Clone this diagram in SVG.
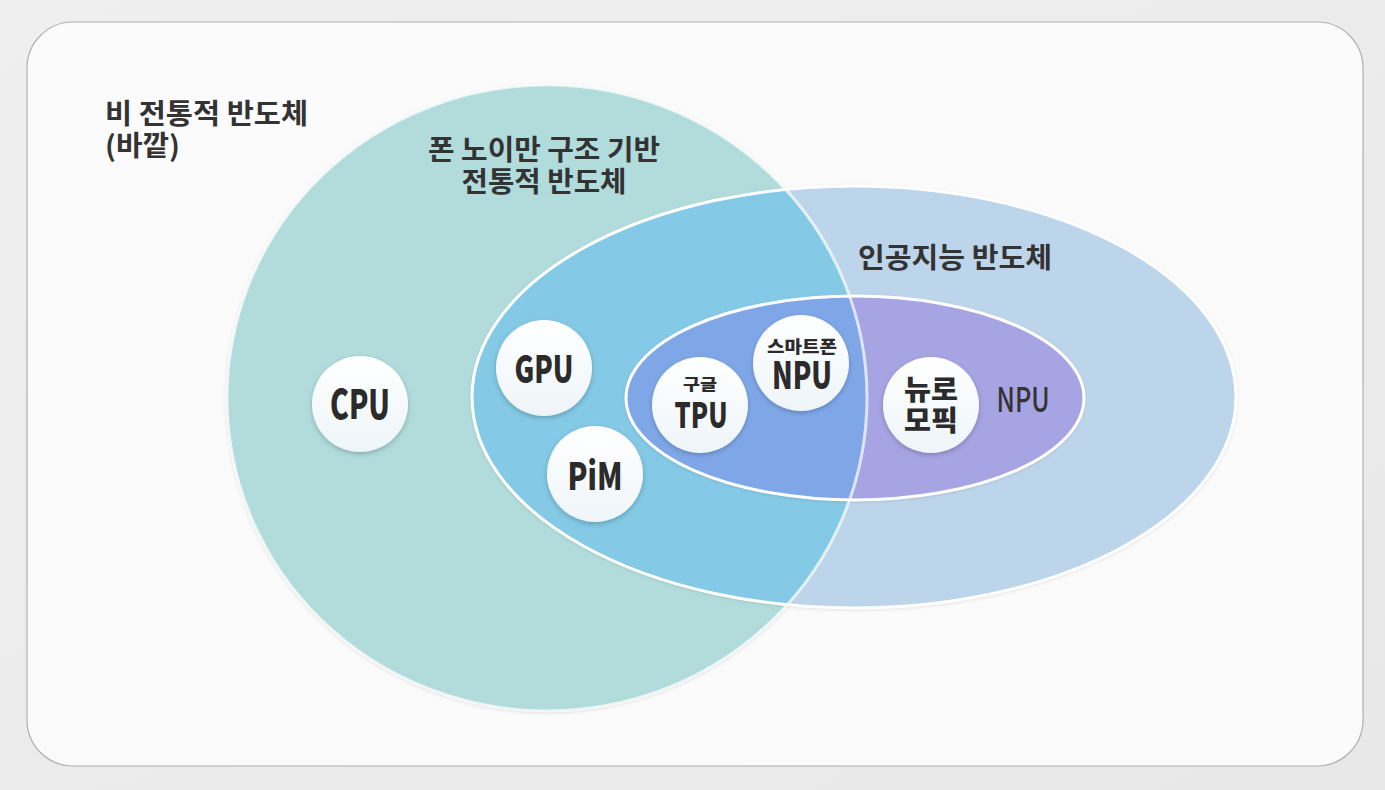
<svg xmlns="http://www.w3.org/2000/svg" width="1385" height="790" viewBox="0 0 1385 790">
<style>
.lbl{font-family:"Noto Sans CJK KR","Noto Sans",sans-serif;font-weight:700;fill:#333;font-size:28px}
.nt{font-family:"Noto Sans CJK KR","Noto Sans",sans-serif;font-weight:900;fill:#2b2b2b;text-anchor:middle}
.node{fill:url(#nodeGrad);filter:url(#nshadow)}
</style>
<defs>
<linearGradient id="bgGrad" x1="0" y1="0" x2="1" y2="1">
<stop offset="0" stop-color="#efefef"/><stop offset="1" stop-color="#e8e8e8"/>
</linearGradient>
<linearGradient id="nodeGrad" x1="0" y1="0" x2="0" y2="1">
<stop offset="0" stop-color="#ffffff"/><stop offset="1" stop-color="#eef5f8"/>
</linearGradient>
<filter id="nshadow" x="-30%" y="-30%" width="160%" height="160%">
<feDropShadow dx="0" dy="2" stdDeviation="2.5" flood-color="#000" flood-opacity="0.22"/>
</filter>
<filter id="sshadow" x="-10%" y="-10%" width="120%" height="120%">
<feDropShadow dx="0" dy="1" stdDeviation="2" flood-color="#000" flood-opacity="0.18"/>
</filter>
<clipPath id="clipCircle"><ellipse cx="547" cy="398" rx="320" ry="313"/></clipPath>
</defs>
<rect x="0" y="0" width="1385" height="790" fill="url(#bgGrad)"/>
<rect x="27" y="22" width="1336" height="744" rx="46" fill="#fbfbfb" stroke="#b0b0b0" stroke-width="1.2"/>

<g id="nonTraditional">
<text class="lbl" x="105" y="124" textLength="203" lengthAdjust="spacingAndGlyphs">비 전통적 반도체</text>
<text class="lbl" x="105" y="156" textLength="75" lengthAdjust="spacingAndGlyphs">(바깥)</text>
</g>

<g id="vonNeumann">
<ellipse cx="547" cy="398" rx="320" ry="313" fill="#b1dcdb" filter="url(#sshadow)"/>
</g>

<g id="aiSemi">
<ellipse cx="854" cy="397" rx="382" ry="211" fill="#bdd5ea" filter="url(#sshadow)"/>
<ellipse cx="854" cy="397" rx="382" ry="211" fill="#84c9e6" clip-path="url(#clipCircle)"/>
</g>

<g id="npuRegion">
<ellipse cx="855" cy="398" rx="229" ry="102" fill="#a7a4e3" filter="url(#sshadow)"/>
<ellipse cx="855" cy="398" rx="229" ry="102" fill="#7fa7e8" clip-path="url(#clipCircle)"/>
</g>

<g id="outlines" fill="none">
<ellipse cx="854" cy="397" rx="382" ry="211" stroke="#ffffff" stroke-width="3"/>
<ellipse cx="855" cy="398" rx="229" ry="102" stroke="#ffffff" stroke-width="3"/>
<ellipse cx="547" cy="398" rx="320" ry="313" stroke="#ffffff" stroke-opacity="0.7" stroke-width="3"/>
</g>

<g id="regionLabels">
<text class="lbl" x="544" y="160" text-anchor="middle" textLength="232" lengthAdjust="spacingAndGlyphs">폰 노이만 구조 기반</text>
<text class="lbl" x="544" y="192" text-anchor="middle" textLength="165" lengthAdjust="spacingAndGlyphs">전통적 반도체</text>
<text class="lbl" x="858" y="268" textLength="194" lengthAdjust="spacingAndGlyphs">인공지능 반도체</text>
<text class="lbl" x="1023" y="412" text-anchor="middle" style="font-weight:500;font-size:34px" textLength="53" lengthAdjust="spacingAndGlyphs">NPU</text>
</g>

<g id="connectors"/>

<g id="cpu">
<circle class="node" cx="360" cy="404" r="48"/>
<text class="nt" x="360" y="419" font-size="40" textLength="60" lengthAdjust="spacingAndGlyphs">CPU</text>
</g>
<g id="gpu">
<circle class="node" cx="544" cy="368" r="48"/>
<text class="nt" x="544" y="383" font-size="38" textLength="59" lengthAdjust="spacingAndGlyphs">GPU</text>
</g>
<g id="pim">
<circle class="node" cx="595" cy="474" r="48"/>
<text class="nt" x="595" y="490" font-size="38" textLength="55" lengthAdjust="spacingAndGlyphs">PiM</text>
</g>
<g id="tpu">
<circle class="node" cx="700" cy="405" r="48"/>
<text class="nt" x="700" y="390" font-size="16" textLength="34" lengthAdjust="spacingAndGlyphs">구글</text>
<text class="nt" x="701" y="428" font-size="35" textLength="53" lengthAdjust="spacingAndGlyphs">TPU</text>
</g>
<g id="phoneNpu">
<circle class="node" cx="801" cy="363" r="48"/>
<text class="nt" x="802" y="353" font-size="17" textLength="70" lengthAdjust="spacingAndGlyphs">스마트폰</text>
<text class="nt" x="802" y="389" font-size="37" textLength="60" lengthAdjust="spacingAndGlyphs">NPU</text>
</g>
<g id="neuromorphic">
<circle class="node" cx="931" cy="405" r="48"/>
<text class="nt" x="931" y="400" font-size="28" textLength="54" lengthAdjust="spacingAndGlyphs">뉴로</text>
<text class="nt" x="931" y="431" font-size="28" textLength="54" lengthAdjust="spacingAndGlyphs">모픽</text>
</g>
</svg>
